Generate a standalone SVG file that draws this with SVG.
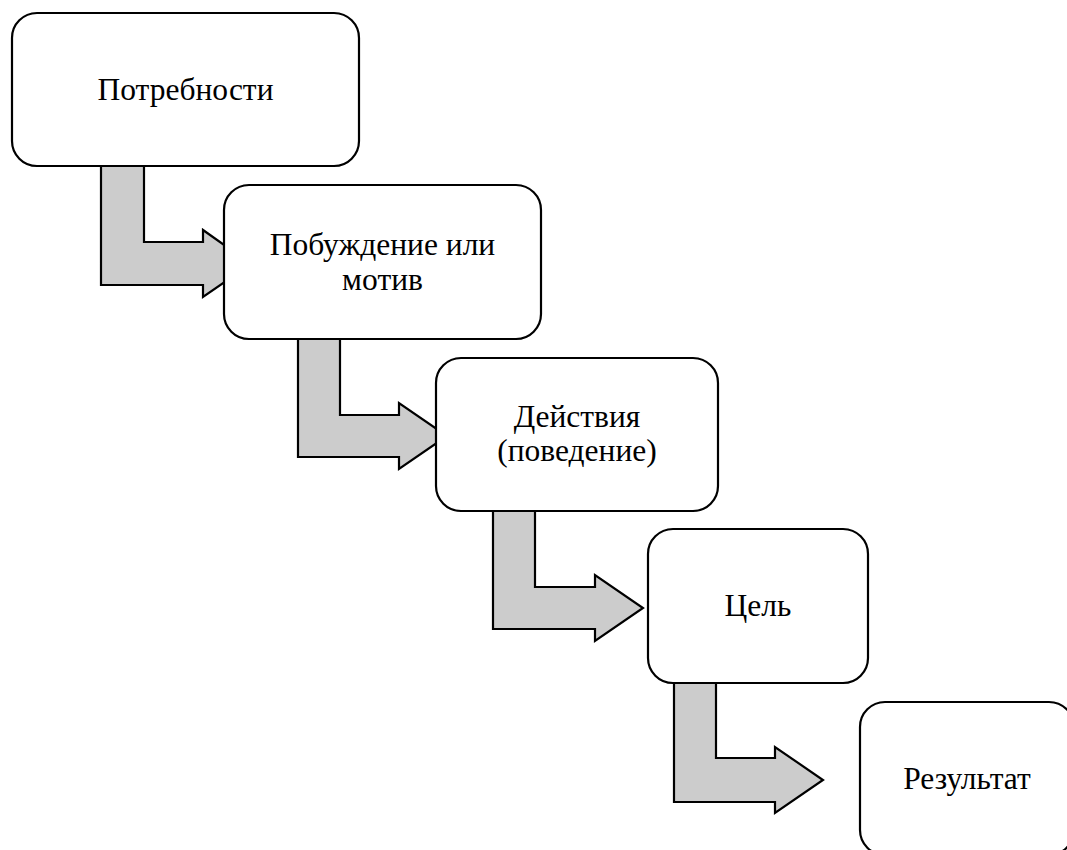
<svg xmlns="http://www.w3.org/2000/svg" width="1067" height="850" viewBox="0 0 1067 850">
<style>
.box{fill:#ffffff;stroke:#000000;stroke-width:2.2}
.arr{fill:#cccccc;stroke:#000000;stroke-width:2.2;stroke-linejoin:miter}
.t{font-family:"Liberation Serif","Times New Roman",serif;font-size:31.5px;fill:#000000;text-anchor:middle}
</style>
<rect width="1067" height="850" fill="#ffffff"/>
<g id="connectors">
<path class="arr" d="M101,166 L144,166 L144,242 L203,242 L203,230 L251,264 L203,297 L203,285 L101,285 Z"/>
<path class="arr" d="M298,339 L340,339 L340,415 L399,415 L399,403 L447,436 L399,469 L399,457 L298,457 Z"/>
<path class="arr" d="M493,511 L535,511 L535,587 L595,587 L595,575 L643,608 L595,641 L595,629 L493,629 Z"/>
<path class="arr" d="M674,683 L716,683 L716,758 L775,758 L775,747 L823,780 L775,813 L775,802 L674,802 Z"/>
</g>
<g id="node1">
<rect class="box" x="12" y="13" width="347" height="153" rx="25" ry="25"/>
<text class="t" x="185.5" y="100">Потребности</text>
</g>
<g id="node2">
<rect class="box" x="224" y="185" width="317" height="154" rx="25" ry="25"/>
<text class="t" x="382.5" y="255">Побуждение или</text>
<text class="t" x="382.5" y="290">мотив</text>
</g>
<g id="node3">
<rect class="box" x="436" y="358" width="282" height="153" rx="25" ry="25"/>
<text class="t" x="577" y="427">Действия</text>
<text class="t" x="577" y="461">(поведение)</text>
</g>
<g id="node4">
<rect class="box" x="648" y="529" width="220" height="154" rx="25" ry="25"/>
<text class="t" x="758" y="616">Цель</text>
</g>
<g id="node5">
<rect class="box" x="860" y="702" width="214" height="153" rx="25" ry="25"/>
<text class="t" x="967" y="789">Результат</text>
</g>
</svg>
